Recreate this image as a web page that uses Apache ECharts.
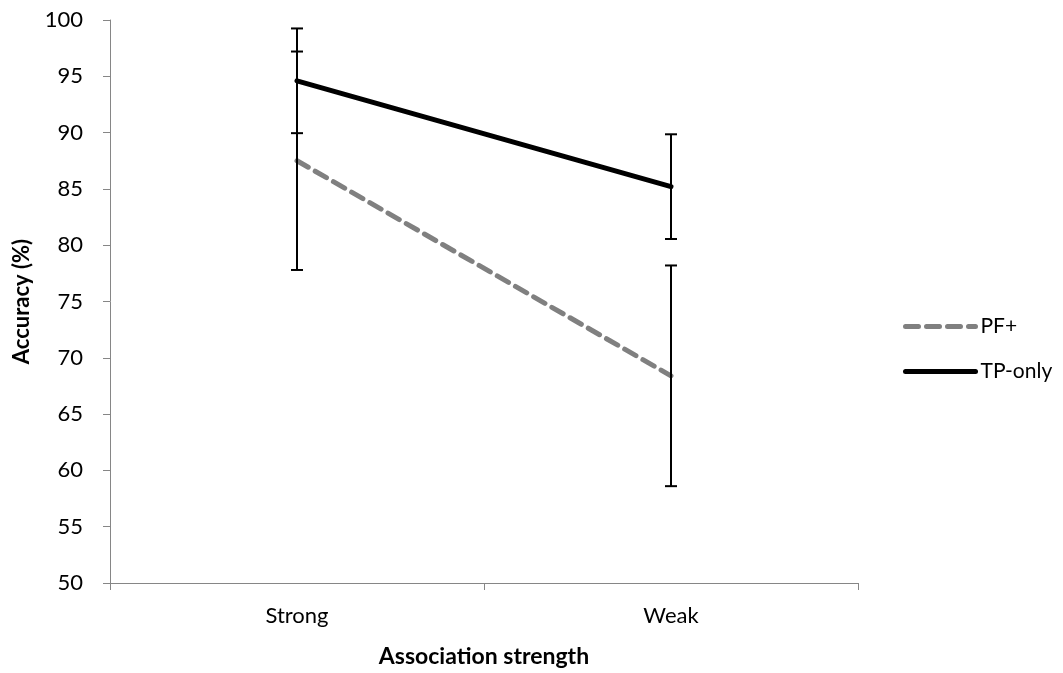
<!DOCTYPE html>
<html>
<head>
<meta charset="utf-8">
<script src="https://cdn.jsdelivr.net/npm/echarts@6/dist/echarts.min.js"></script>
<style>
  html, body { margin: 0; padding: 0; background: #fff; }
  #main { width: 1063px; height: 673px; }
</style>
</head>
<body>
<div id="main"></div>
<script>
// data
var categories = ['Strong', 'Weak'];
var pfValues = [87.5, 68.4];
var pfErr = [9.7, 9.8];
var tpValues = [94.6, 85.2];
var tpErr = [4.65, 4.65];

var FONT = 'Lato, "Open Sans", sans-serif';

function errData(vals, errs) {
	var out = [];
	for (var i = 0; i < vals.length; i++) {
		out.push([i, vals[i] - errs[i], vals[i] + errs[i]]);
	}
	return out;
}

// vertical bar with caps
function renderErr(params, api) {
	var lo = api.coord([api.value(0), api.value(1)]);
	var hi = api.coord([api.value(0), api.value(2)]);
	var cap = 6;
	var style = { stroke: '#000', lineWidth: 2 };
	return {
		type: 'group',
		children: [
			{ type: 'line', shape: { x1: lo[0], y1: lo[1], x2: hi[0], y2: hi[1] }, style: style },
			{ type: 'line', shape: { x1: lo[0] - cap, y1: lo[1], x2: lo[0] + cap, y2: lo[1] }, style: style },
			{ type: 'line', shape: { x1: hi[0] - cap, y1: hi[1], x2: hi[0] + cap, y2: hi[1] }, style: style }
		]
	};
}

var myChart = echarts.init(document.getElementById('main'));

var option = {
	animation: false,
	textStyle: { fontFamily: FONT },
	grid: { left: 110, right: 205, top: 20, bottom: 90, outerBoundsMode: 'none' },
	legend: {
		orient: 'vertical',
		left: 898,
		top: 311,
		itemWidth: 70,
		itemHeight: 14,
		itemGap: 24,
		textStyle: { fontFamily: FONT, fontSize: 21, color: '#000' },
		data: [
			{ name: 'PF+', itemStyle: { opacity: 0 }, lineStyle: { width: 5, type: [13, 8], cap: 'round' } },
			{ name: 'TP-only', itemStyle: { opacity: 0 }, lineStyle: { width: 5, cap: 'round' } }
		]
	},
	xAxis: {
		type: 'category',
		data: categories,
		boundaryGap: true,
		name: 'Association strength',
		nameLocation: 'middle',
		nameGap: 62,
		nameTextStyle: { fontFamily: FONT, fontSize: 23, fontWeight: 'bold', color: '#000' },
		axisLine: { lineStyle: { color: '#868686', width: 1 } },
		axisTick: { show: true, length: 7, lineStyle: { color: '#868686' } },
		axisLabel: { margin: 22, fontFamily: FONT, fontSize: 22, color: '#000' }
	},
	yAxis: {
		type: 'value',
		min: 50,
		max: 100,
		interval: 5,
		name: 'Accuracy (%)',
		nameLocation: 'middle',
		nameGap: 77,
		nameTextStyle: { fontFamily: FONT, fontSize: 22, fontWeight: 'bold', color: '#000' },
		splitLine: { show: false },
		axisLine: { show: true, lineStyle: { color: '#868686', width: 1 } },
		axisTick: { show: true, length: 7, lineStyle: { color: '#868686' } },
		axisLabel: { margin: 27, fontFamily: FONT, fontSize: 22, color: '#000' }
	},
	series: [
		{
			name: 'PF+',
			type: 'line',
			data: pfValues,
			symbol: 'none',
			lineStyle: { color: '#808080', width: 5, type: [13, 8], cap: 'round' },
			itemStyle: { color: '#808080' },
			z: 2
		},
		{
			name: 'TP-only',
			type: 'line',
			data: tpValues,
			symbol: 'none',
			lineStyle: { color: '#000', width: 5, cap: 'round' },
			itemStyle: { color: '#000' },
			z: 2
		},
		{
			type: 'custom',
			renderItem: renderErr,
			data: errData(pfValues, pfErr),
			encode: { x: 0, y: [1, 2] },
			z: 5
		},
		{
			type: 'custom',
			renderItem: renderErr,
			data: errData(tpValues, tpErr),
			encode: { x: 0, y: [1, 2] },
			z: 5
		}
	]
};

myChart.setOption(option);
</script>
</body>
</html>
